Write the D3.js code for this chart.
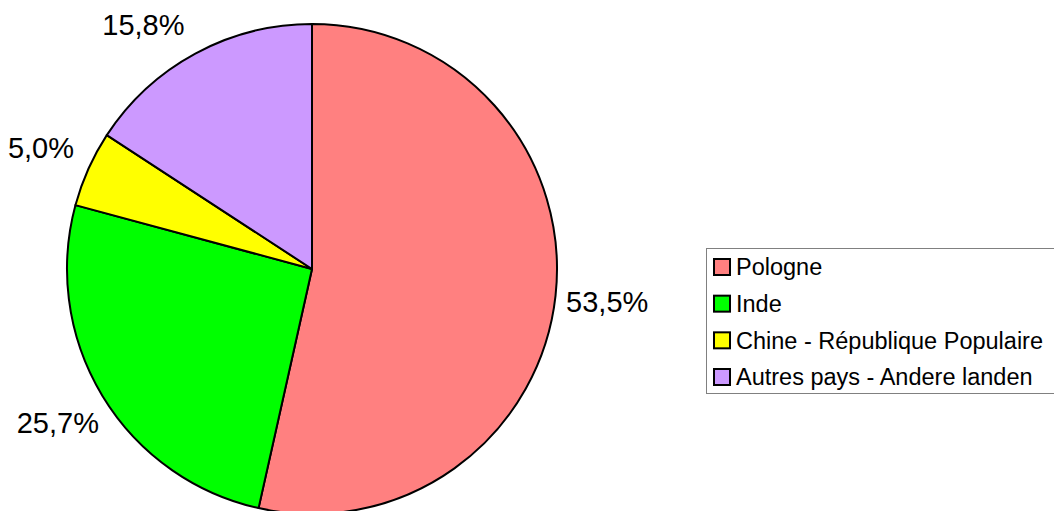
<!DOCTYPE html>
<html>
<head>
<meta charset="utf-8">
<script src="https://cdn.jsdelivr.net/npm/d3@7"></script>
<style>
  body { margin: 0; background: #fff; }
  svg { display: block; font-family: "Liberation Sans", Arial, sans-serif; }
</style>
</head>
<body>
<script>
// data
const countries = ["Pologne", "Inde", "Chine - République Populaire", "Autres pays - Andere landen"];
const shares = [53.5, 25.7, 5.0, 15.8];
const colors = ["#ff8080", "#00ff00", "#ffff00", "#cc99ff"];

const width = 1054, height = 511;
const cx = 312, cy = 269, r = 245, labelR = 297;
const minLabelY = 24.5; // keep labels inside the top edge

const svg = d3.select("body").append("svg")
  .attr("width", width)
  .attr("height", height);

const pie = d3.pie().sort(null).value(d => d);
const arcs = pie(shares);

const arc = d3.arc().innerRadius(0).outerRadius(r);

const g = svg.append("g").attr("transform", `translate(${cx},${cy})`);

g.selectAll("path")
  .data(arcs)
  .join("path")
  .attr("d", arc)
  .attr("fill", (d, i) => colors[i])
  .attr("stroke", "#000")
  .attr("stroke-width", 2)
  .attr("stroke-linejoin", "round");

const fmt = v => v.toFixed(1).replace(".", ",") + "%";

// label position on a circle, slid along it when it would leave the top
function labelPos(d) {
  const a = (d.startAngle + d.endAngle) / 2;
  let x = labelR * Math.sin(a), y = -labelR * Math.cos(a);
  if (y + cy < minLabelY) {
    y = minLabelY - cy;
    x = Math.sign(x) * Math.sqrt(labelR * labelR - y * y);
  }
  return [x, y];
}

g.selectAll("text.lbl")
  .data(arcs)
  .join("text")
  .attr("class", "lbl")
  .attr("transform", d => `translate(${labelPos(d)})`)
  .attr("text-anchor", "middle")
  .attr("dy", "0.35em")
  .attr("font-size", 29)
  .attr("fill", "#000")
  .text(d => fmt(d.data));

// legend
const lg = svg.append("g").attr("transform", "translate(706,248)");
lg.append("rect")
  .attr("x", 0.5).attr("y", 0.5)
  .attr("width", 360).attr("height", 145)
  .attr("fill", "#fff")
  .attr("stroke", "#808080")
  .attr("stroke-width", 1);

const rowY = d3.scalePoint().domain(countries).range([19, 129]);

const items = lg.selectAll("g.item")
  .data(countries)
  .join("g")
  .attr("class", "item")
  .attr("transform", d => `translate(0,${rowY(d)})`);

items.append("rect")
  .attr("x", 8).attr("y", -8)
  .attr("width", 16).attr("height", 16)
  .attr("fill", (d, i) => colors[i])
  .attr("stroke", "#000")
  .attr("stroke-width", 2);

items.append("text")
  .attr("x", 30)
  .attr("dy", "0.35em")
  .attr("font-size", 23.5)
  .attr("fill", "#000")
  .text(d => d);
</script>
</body>
</html>
